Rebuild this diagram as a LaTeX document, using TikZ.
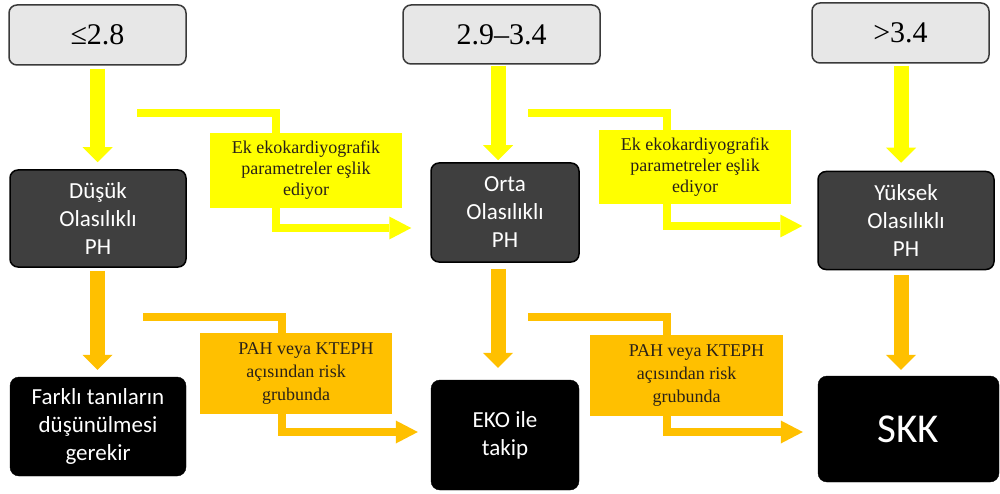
\documentclass[tikz,border=0pt]{standalone}
\usepackage{fontspec}
\setmainfont{Liberation Serif}
\newfontfamily\carl{Carlito}
\usetikzlibrary{arrows.meta}
\definecolor{yel}{HTML}{FFFF00}
\definecolor{org}{HTML}{FFC000}
\definecolor{topfill}{HTML}{E7E7E7}
\definecolor{topline}{HTML}{3A3A3A}
\definecolor{darkfill}{HTML}{3F3F3F}
\definecolor{labtext}{HTML}{2A2218}
\begin{document}
\begin{tikzpicture}[x=1pt,y=-1pt,
  topbox/.style={draw=topline, line width=1.5pt, fill=topfill, rounded corners=8pt, inner sep=0pt, align=center, font=\fontsize{30}{36}\selectfont},
  darkbox/.style={draw=black, line width=1.5pt, fill=darkfill, rounded corners=8pt, inner sep=0pt, align=center, text=white, font=\carl\fontsize{23}{28}\selectfont},
  blackbox/.style={draw=black, fill=black, rounded corners=9pt, inner sep=0pt, align=center, text=white, font=\carl\fontsize{23}{28}\selectfont},
  labbox/.style={inner sep=0pt, align=center, text=labtext},
  varrow/.style={line width=15pt, -{Triangle[width=30pt,length=15pt,line width=0pt]}},
  barrow/.style={line width=8pt, line join=miter, -{Triangle[width=23pt,length=22pt,line width=0pt]}},
]
\useasboundingbox (0,0) rectangle (1000,494);
\fill[white] (0,0) rectangle (1000,494);

% top boxes
\node[topbox, minimum width=177pt, minimum height=60pt] (t1) at (97.5,35) {≤2.8};
\node[topbox, minimum width=197pt, minimum height=59pt] (t2) at (501.5,34.5) {2.9–3.4};
\node[topbox, minimum width=177pt, minimum height=60pt] (t3) at (900.5,33) {>3.4};

% probability boxes
\node[darkbox, minimum width=176pt, minimum height=97pt] (d1) at (98,218.5) {Düşük\\Olasılıklı\\PH};
\node[darkbox, minimum width=148pt, minimum height=99pt] (d2) at (505,212.5) {Orta\\Olasılıklı\\PH};
\node[darkbox, minimum width=176pt, minimum height=98pt] (d3) at (906,220.5) {Yüksek\\Olasılıklı\\PH};

% result boxes
\node[blackbox, minimum width=176pt, minimum height=99pt] (b1) at (98,426.5) {Farklı tanıların\\düşünülmesi\\gerekir};
\node[blackbox, minimum width=148pt, minimum height=110pt] (b2) at (505,435) {EKO ile\\takip};
\node[blackbox, minimum width=181pt, minimum height=106pt, font=\carl\fontsize{41}{48}\selectfont] (b3) at (908.5,429) {SKK};

% column coordinates
\coordinate (c1) at (97.5,0);
\coordinate (c2) at (498,0);
\coordinate (c3) at (901,0);

% vertical yellow arrows
\draw[varrow, yel, shorten <=3pt, shorten >=7pt] (t1.south -| c1) -- (d1.north -| c1);
\draw[varrow, yel, shorten <=1pt, shorten >=2pt] (t2.south -| c2) -- (d2.north -| c2);
\draw[varrow, yel, shorten <=2pt, shorten >=8pt] (t3.south -| c3) -- (d3.north -| c3);

% vertical orange arrows
\draw[varrow, org, shorten <=3pt, shorten >=7pt] (d1.south -| c1) -- (b1.north -| c1);
\draw[varrow, org, shorten <=6pt, shorten >=12pt] (d2.south -| c2) -- (b2.north -| c2);
\draw[varrow, org, shorten <=5pt, shorten >=6pt] (d3.south -| c3) -- (b3.north -| c3);

% bent arrows
\coordinate (s1) at (137,113.5);
\coordinate (k1) at (276,113.5);
\coordinate (s2) at (528,113);
\coordinate (k2) at (666.5,113);
\coordinate (s3) at (143,317);
\coordinate (k3) at (281.5,317);
\coordinate (s4) at (528,317);
\coordinate (k4) at (666.5,317);

\draw[barrow, yel, shorten >=19pt] (s1) -- (k1) |- ([yshift=-15.5pt]d2.west);
\draw[barrow, yel, shorten >=15pt] (s2) -- (k2) |- ([yshift=-5.5pt]d3.west);
\draw[barrow, org, shorten >=13pt] (s3) -- (k3) |- ([yshift=3pt]b2.west);
\draw[barrow, org, shorten >=15pt] (s4) -- (k4) |- ([yshift=-3pt]b3.west);

% label boxes
\node[labbox, fill=yel, minimum width=192pt, minimum height=75pt, font=\fontsize{18}{21}\selectfont] (l1) at (306,170.5) {Ek ekokardiyografik\\parametreler eşlik\\ediyor};
\node[labbox, fill=yel, minimum width=192pt, minimum height=74pt, font=\fontsize{18}{21}\selectfont] (l2) at (695,167) {Ek ekokardiyografik\\parametreler eşlik\\ediyor};
\node[labbox, fill=org, minimum width=192pt, minimum height=81pt, font=\fontsize{18}{23}\selectfont] (l3) at (296,373.5) {\hspace*{20pt}PAH veya KTEPH\\açısından risk\\grubunda};
\node[labbox, fill=org, minimum width=193pt, minimum height=81pt, font=\fontsize{18}{23}\selectfont] (l4) at (686.5,375.5) {\hspace*{20pt}PAH veya KTEPH\\açısından risk\\grubunda};
\end{tikzpicture}
\end{document}
